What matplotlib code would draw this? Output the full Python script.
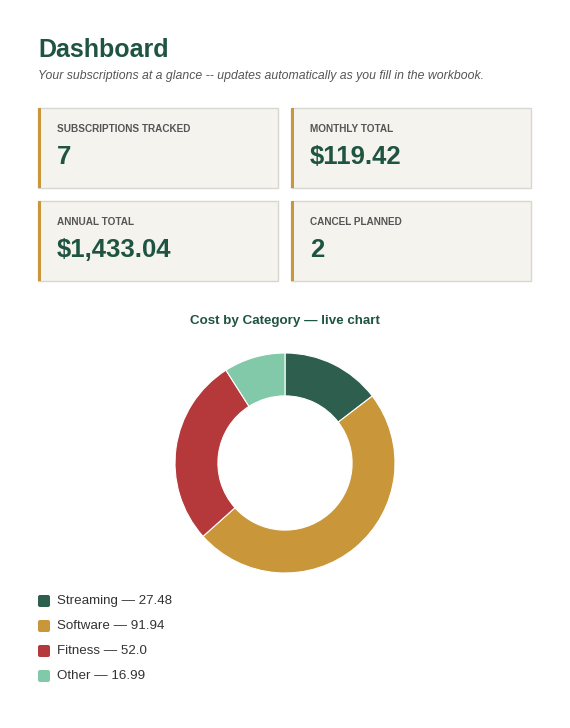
import matplotlib
matplotlib.use("Agg")
import matplotlib.pyplot as plt
from matplotlib.patches import Rectangle, FancyBboxPatch

categories = ["Streaming", "Software", "Fitness", "Other"]
values = [27.48, 91.94, 52.0, 16.99]
colors = ["#2d5e4e", "#c9973a", "#b5393b", "#82c9a9"]
card_labels = ["SUBSCRIPTIONS TRACKED", "MONTHLY TOTAL", "ANNUAL TOTAL", "CANCEL PLANNED"]
card_values = ["7", "$119.42", "$1,433.04", "2"]

W, H = 570, 728
fig = plt.figure(figsize=(W/100, H/100), dpi=100)
plt.rcParams['font.family'] = ['Liberation Sans', 'DejaVu Sans']
bg = fig.add_axes([0, 0, 1, 1])
bg.set_xlim(0, W); bg.set_ylim(H, 0); bg.axis('off')

green = "#1f5442"
bg.text(38, 50, "Dashboard", fontsize=18, fontweight='bold', color=green, va='center')
bg.text(38, 76, "Your subscriptions at a glance -- updates automatically as you fill in the workbook.",
        fontsize=8.8, style='italic', color='#555555', va='center')

pos = [(38, 108), (291, 108), (38, 201), (291, 201)]
for (x, y), lab, val in zip(pos, card_labels, card_values):
    bg.add_patch(Rectangle((x, y), 240, 80, facecolor='#f5f3ee', edgecolor='#d8d6d0', lw=1))
    bg.add_patch(Rectangle((x, y), 3, 80, facecolor='#c9973a', edgecolor='none'))
    bg.text(x + 19, y + 21, lab, fontsize=7.2, fontweight='bold', color='#555555', va='center')
    bg.text(x + 19, y + 49, val, fontsize=18.5, fontweight='bold', color=green, va='center')

bg.text(285, 321, "Cost by Category \u2014 live chart", fontsize=9.6, fontweight='bold',
        color=green, ha='center', va='center')

cx, cy, r = 285, 463, 110
ax = fig.add_axes([(cx - r)/W, 1 - (cy + r)/H, 2*r/W, 2*r/H])
ax.pie(values, colors=colors, startangle=90, counterclock=False, radius=1,
       wedgeprops=dict(width=0.39, edgecolor='white', linewidth=0.8))
ax.set_xlim(-1, 1); ax.set_ylim(-1, 1)
ax.set_aspect('equal')
ax.axis('off')

for i, (c, v, col) in enumerate(zip(categories, values, colors)):
    y = 601 + 25 * i
    bg.add_patch(FancyBboxPatch((38, y - 6), 12, 12, boxstyle="round,pad=0,rounding_size=2",
                                facecolor=col, edgecolor='none'))
    bg.text(57, y, f"{c} \u2014 {v}", fontsize=9.6, color='#333333', va='center')

fig.savefig("out.png", dpi=100, facecolor='white')
